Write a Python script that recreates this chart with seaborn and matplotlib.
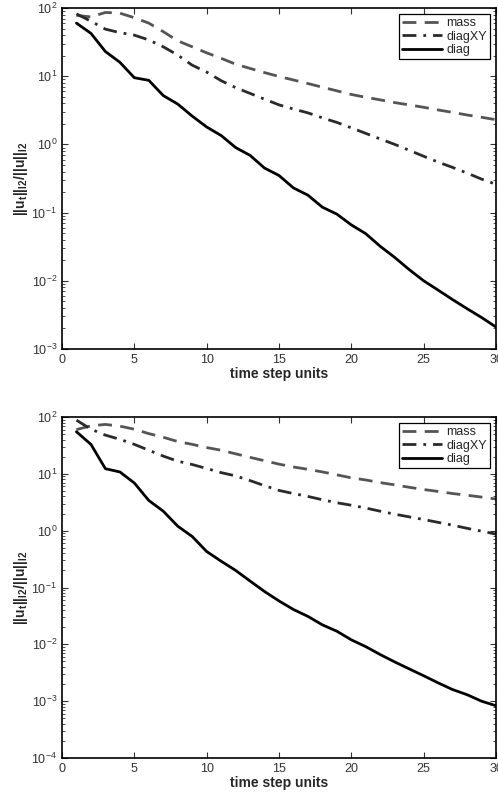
import matplotlib
matplotlib.use("Agg")
import matplotlib.pyplot as plt
import seaborn as sns
import pandas as pd
from matplotlib.ticker import LogLocator, NullFormatter

steps = list(range(1, 31))

top_mass = [78, 74, 86, 84, 72, 60, 45, 33, 27, 22, 18.3, 15, 13, 11.3, 9.9,
            8.8, 7.8, 6.9, 6.1, 5.4, 4.9, 4.5, 4.1, 3.8, 3.5, 3.2, 2.95, 2.7, 2.5, 2.3]
top_diagXY = [82, 64, 49, 43.5, 40, 34, 27, 20.4, 14.5, 11.5, 8.6, 6.8, 5.6, 4.6, 3.8,
              3.3, 2.9, 2.45, 2.1, 1.75, 1.45, 1.2, 1.0, 0.82, 0.67, 0.55, 0.46, 0.38, 0.31, 0.26]
top_diag = [60, 42.5, 23, 16, 9.5, 8.7, 5.2, 3.9, 2.6, 1.8, 1.35, 0.9, 0.69, 0.45, 0.35,
            0.23, 0.18, 0.12, 0.095, 0.066, 0.049, 0.032, 0.022, 0.0146, 0.010,
            0.0073, 0.0053, 0.0039, 0.0029, 0.0021]

bot_mass = [60, 70, 74, 69, 61, 51, 44, 37, 33, 29, 26, 22.5, 19.5, 17, 14.8,
            13.2, 12, 10.8, 9.6, 8.5, 7.8, 7.0, 6.4, 5.8, 5.3, 4.9, 4.5, 4.2, 3.9, 3.6]
bot_diagXY = [88, 61, 48, 40.5, 33, 26, 20.5, 16.7, 14.6, 12.4, 10.5, 9.2, 7.6, 6.2, 5.1,
              4.5, 4.0, 3.5, 3.1, 2.8, 2.5, 2.2, 1.95, 1.75, 1.57, 1.4, 1.25, 1.1, 0.98, 0.87]
bot_diag = [55, 33, 12.3, 10.8, 6.9, 3.4, 2.2, 1.2, 0.79, 0.43, 0.29, 0.20, 0.13, 0.085, 0.058,
            0.041, 0.031, 0.022, 0.017, 0.012, 0.0091, 0.0066, 0.0049, 0.0037, 0.0028,
            0.0021, 0.0016, 0.0013, 0.0010, 0.00083]

series_names = ["mass", "diagXY", "diag"]
xticks = [0, 5, 10, 15, 20, 25, 30]
xlabel = "time step units"
ylabel = r"$\mathbf{||u_t||_{l2}/||u||_{l2}}$"

sns.set_style("ticks")
plt.rcParams["font.family"] = ["Liberation Sans", "DejaVu Sans"]
plt.rcParams["mathtext.fontset"] = "custom"
plt.rcParams["mathtext.rm"] = "Liberation Sans"
plt.rcParams["mathtext.it"] = "Liberation Sans:italic"
plt.rcParams["mathtext.bf"] = "Liberation Sans:bold"

fig = plt.figure(figsize=(4.98, 7.98), dpi=100)
ax_top = fig.add_axes([62/498, (798-349)/798, 434/498, 341/798])
ax_bot = fig.add_axes([62/498, (798-758)/798, 434/498, 341/798])

styles = {"mass": dict(color="#555555", linestyle=(0, (5, 3))),
          "diagXY": dict(color="#2a2a2a", linestyle=(0, (5, 2.5, 1, 2.5))),
          "diag": dict(color="black", linestyle="-")}

panels = [(ax_top, [top_mass, top_diagXY, top_diag], (1e-3, 1e2)),
          (ax_bot, [bot_mass, bot_diagXY, bot_diag], (1e-4, 1e2))]

for ax, vals, ylim in panels:
    for name, v in zip(series_names, vals):
        df = pd.DataFrame({"step": steps, "val": v})
        sns.lineplot(data=df, x="step", y="val", ax=ax, label=name,
                     linewidth=2.0, **styles[name])
    ax.set_yscale("log")
    ax.set_xlim(0, 30)
    ax.set_ylim(*ylim)
    ax.set_xticks(xticks)
    ax.yaxis.set_major_locator(LogLocator(base=10, numticks=10))
    ax.yaxis.set_minor_locator(LogLocator(base=10, subs=range(2, 10), numticks=20))
    ax.yaxis.set_minor_formatter(NullFormatter())
    ax.tick_params(direction="in", top=True, right=True, which="both",
                   labelsize=9, colors="#333333", labelcolor="#333333")
    ax.tick_params(which="major", length=4)
    ax.tick_params(which="minor", length=2)
    for s in ax.spines.values():
        s.set_linewidth(1.2)
        s.set_color("black")
    ax.set_xlabel(xlabel, fontsize=10, fontweight="bold", labelpad=1)
    ax.set_ylabel(ylabel, fontsize=10, labelpad=1)
    leg = ax.legend(loc="upper right", fontsize=9, handlelength=3.2,
                    fancybox=False, framealpha=1, edgecolor="black",
                    borderpad=0.25, labelspacing=0.1, handletextpad=0.3,
                    borderaxespad=0.5)
    leg.get_frame().set_linewidth(0.9)

fig.savefig("out.png", dpi=100)
